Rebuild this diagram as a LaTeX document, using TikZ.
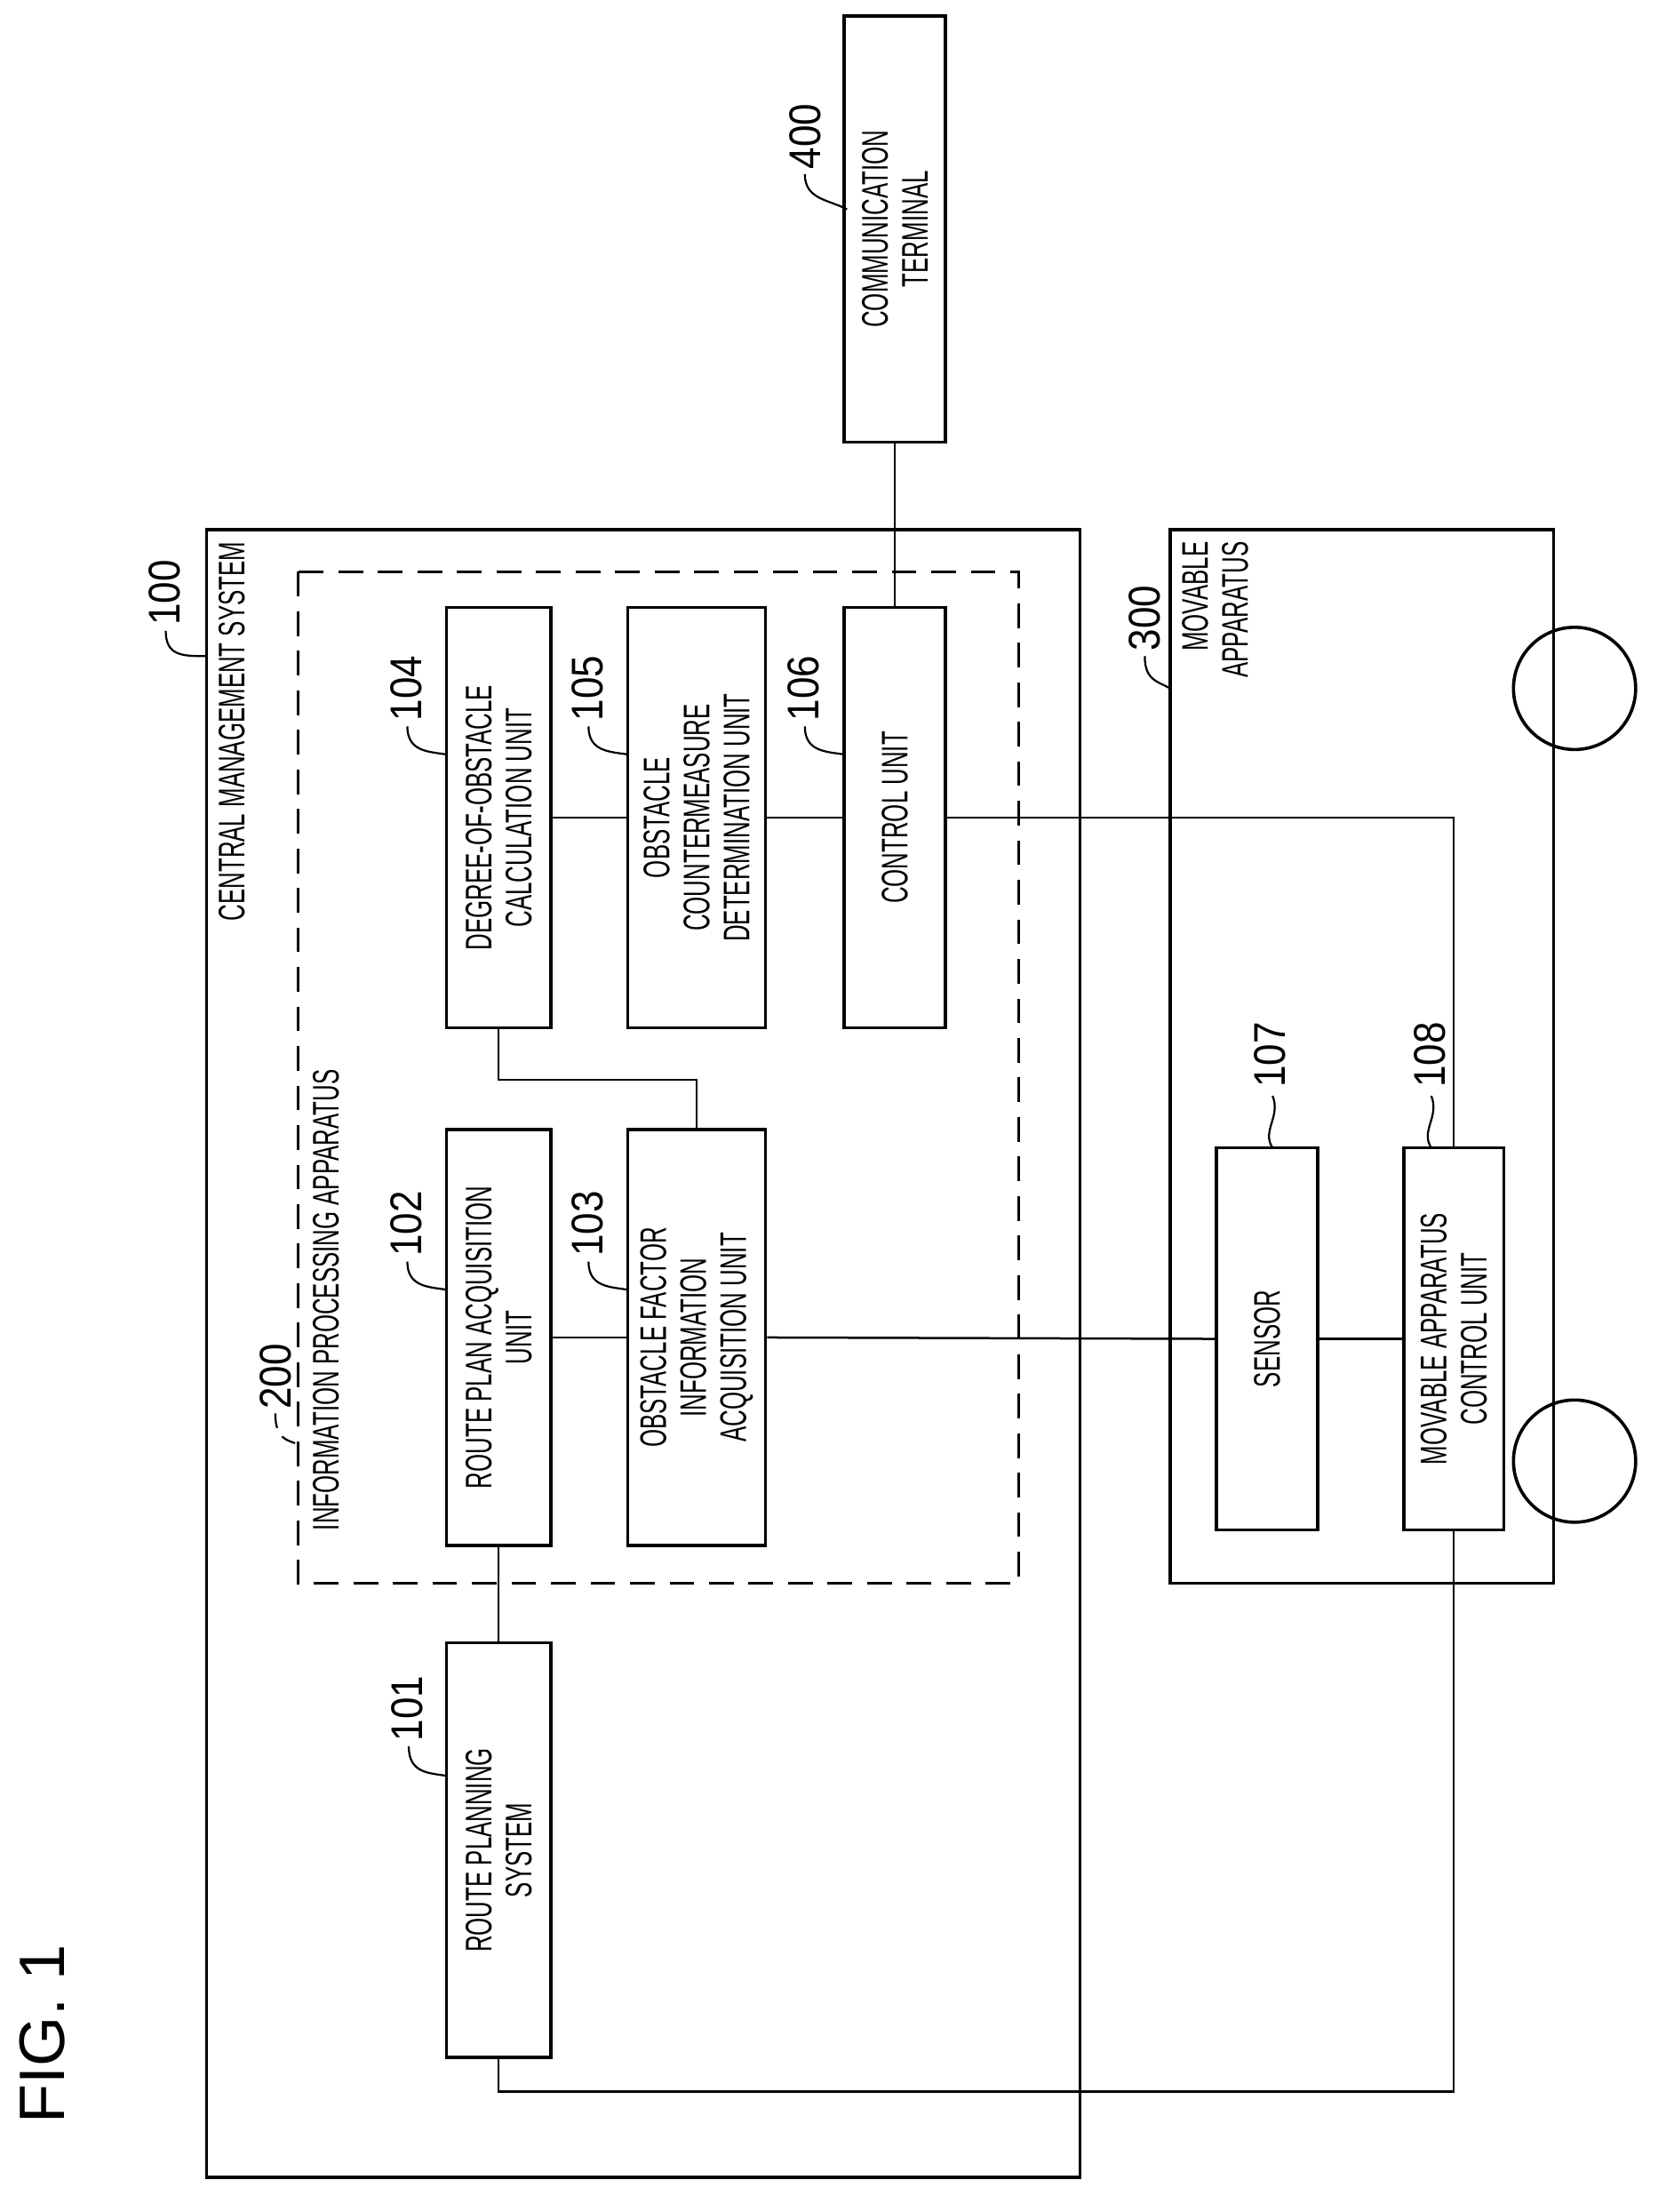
\documentclass[tikz,border=0pt]{standalone}
\usepackage{fontspec}
\setmainfont{Liberation Sans}
\newfontfamily\condfont[FakeStretch=0.62]{Liberation Sans}
\newfontfamily\numfont[FakeStretch=0.88]{Liberation Sans}
\usetikzlibrary{calc, positioning}

\tikzset{
	unit/.style={draw, line width=0.65pt, rectangle, rotate=90, align=center, inner sep=0pt,
		font=\condfont\fontsize{7.5}{8.1}\selectfont},
	caption/.style={rotate=90, inner sep=0pt, align=right, font=\condfont\fontsize{7.5}{8.1}\selectfont},
	refnum/.style={rotate=90, inner sep=0pt, font=\numfont\fontsize{9}{10}\selectfont},
	link/.style={line width=0.45pt},
	leader/.style={line width=0.4pt}
}

\begin{document}
\begin{tikzpicture}[x=0.01cm, y=-0.01cm]
					\useasboundingbox (0,0) rectangle (1186,1574.5);
					
					\node[rotate=90, inner sep=0pt, font=\fontsize{13}{14}\selectfont] (fig) at (30,1448) {FIG. 1};
					
					% frames
					\draw[line width=0.65pt] (147,377) rectangle (769,1550);
					\draw[line width=0.55pt, dashed, dash pattern=on 5pt off 3pt] (212,407) rectangle (725,1127);
					\draw[line width=0.65pt] (833,377) rectangle (1106,1127);
					\draw[line width=0.65pt] (1121,490) circle (43.5);
					\draw[line width=0.65pt] (1121,1040) circle (43.5);
					
					\node[caption, anchor=east] (cms) at (165,385) {CENTRAL MANAGEMENT SYSTEM};
					\node[caption, anchor=west] (ipa) at (232,1090) {INFORMATION PROCESSING APPARATUS};
					\node[caption, anchor=east] (mva) at (865,385) {MOVABLE\\APPARATUS};
					
					% units
					\node[unit, minimum width=2.95cm, minimum height=0.74cm] (b101) at (355,1317) {ROUTE PLANNING\\SYSTEM};
					\node[unit, minimum width=2.96cm, minimum height=0.74cm] (b102) at (355,952) {ROUTE PLAN ACQUISITION\\UNIT};
					\node[unit, minimum width=2.96cm, minimum height=0.98cm] (b103) at (496,952) {OBSTACLE FACTOR\\INFORMATION\\ACQUISITION UNIT};
					\node[unit, minimum width=2.99cm, minimum height=0.74cm] (b104) at (355,582) {DEGREE-OF-OBSTACLE\\CALCULATION UNIT};
					\node[unit, minimum width=2.99cm, minimum height=0.98cm] (b105) at (496,582) {OBSTACLE\\COUNTERMEASURE\\DETERMINATION UNIT};
					\node[unit, minimum width=2.99cm, minimum height=0.72cm] (b106) at (637,582) {CONTROL UNIT};
					\node[unit, minimum width=3.03cm, minimum height=0.72cm] (b400) at (637,163) {COMMUNICATION\\TERMINAL};
					\node[unit, minimum width=2.72cm, minimum height=0.72cm] (b107) at (902,953) {SENSOR};
					\node[unit, minimum width=2.72cm, minimum height=0.71cm] (b108) at (1035,953) {MOVABLE APPARATUS\\CONTROL UNIT};
					
					% connections
					\draw[link] (b102.west) -- (b101.east);
					\draw[link] (b102.south) -- (b103.north);
					\draw[link] (b103.south) -- (b107.north);
					\draw[link] (b107.south) -- (b108.north);
					\draw[link] (b104.south) -- (b105.north);
					\draw[link] (b105.south) -- (b106.north);
					\draw[link] (b400.west) -- (b106.east);
					\draw[link] (b106.south) -| (b108.east);
					\draw[link] (b104.west) -- ++(0,36) -| (b103.east);
					\draw[link] (b101.west) -- ++(0,23) -| (b108.west);
					
					% reference numbers
					\node[refnum] (n100) at (117,422) {100};
					\draw[leader] (118,449) .. controls (118,467) and (130,467) .. (147,467);
					\node[refnum] (n200) at (196,980) {200};
					\draw[leader, dashed, dash pattern=on 3pt off 2pt] (196,1006) .. controls (196,1025) and (205,1025) .. (212,1028);
					\node[refnum] (n300) at (815,440) {300};
					\draw[leader] (815,467) .. controls (815,485) and (825,485) .. (833,490);
					\node[refnum] (n400) at (573,97) {400};
					\draw[leader] (573,124) .. controls (573,142) and (590,142) .. (603,149);
					\node[refnum] (n101) at (290,1216) {101};
					\draw[leader] (291,1243) .. controls (291,1262) and (305,1262) .. (318,1264);
					\node[refnum] (n102) at (289,871) {102};
					\draw[leader] (290,898) .. controls (290,916) and (305,916) .. (318,918);
					\node[refnum] (n103) at (418,871) {103};
					\draw[leader] (419,898) .. controls (419,916) and (434,916) .. (447,918);
					\node[refnum] (n104) at (289,490) {104};
					\draw[leader] (290,517) .. controls (290,535) and (305,535) .. (318,537);
					\node[refnum] (n105) at (418,490) {105};
					\draw[leader] (419,517) .. controls (419,535) and (434,535) .. (447,537);
					\node[refnum] (n106) at (572,490) {106};
					\draw[leader] (573,517) .. controls (573,535) and (588,535) .. (601,537);
					\node[refnum] (n107) at (904,751) {107};
					\draw[leader] (906,780) .. controls (912,795) and (898,805) .. (906,817);
					\node[refnum] (n108) at (1018,751) {108};
					\draw[leader] (1019,780) .. controls (1025,795) and (1011,805) .. (1019,817);
				\end{tikzpicture}
\end{document}
